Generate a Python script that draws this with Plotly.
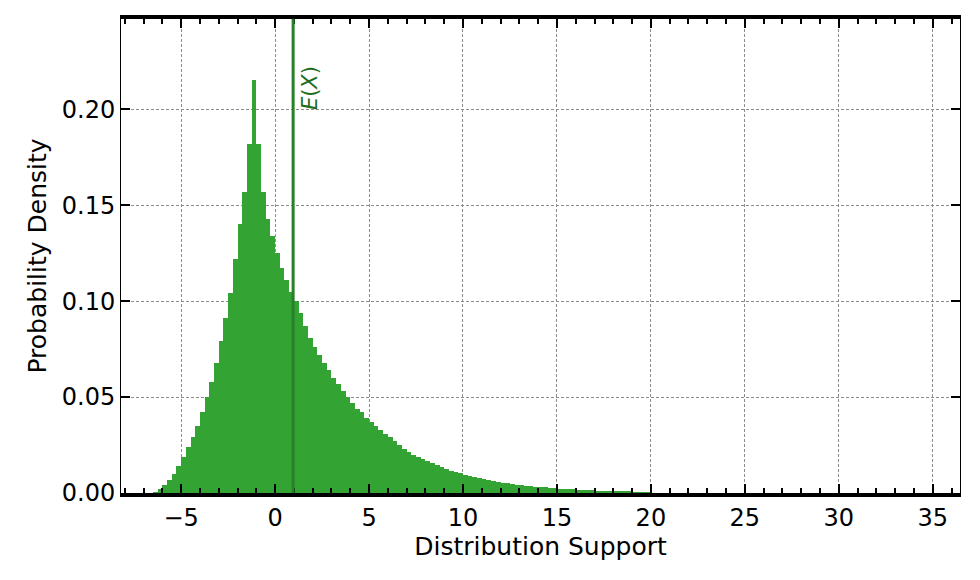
import numpy as np
import plotly.graph_objects as go

bin_start = -6.5
bin_width = 0.25
density = [
    0.0005, 0.002, 0.004, 0.007, 0.010, 0.014, 0.019, 0.024, 0.029, 0.035,
    0.042, 0.050, 0.058, 0.068, 0.079, 0.091, 0.104, 0.122, 0.140, 0.157,
    0.182, 0.215, 0.182, 0.157, 0.143, 0.134, 0.125, 0.117, 0.111, 0.105,
    0.100, 0.094, 0.087, 0.081, 0.076, 0.072, 0.068, 0.064, 0.060, 0.057,
    0.053, 0.050, 0.047, 0.044, 0.042, 0.039, 0.037, 0.035, 0.033, 0.031,
    0.029, 0.027, 0.025, 0.023, 0.0215, 0.020, 0.019, 0.0178, 0.0167, 0.0157,
    0.0145, 0.0135, 0.0125, 0.0117, 0.0110, 0.0103, 0.0096, 0.0090, 0.0084, 0.0078,
    0.0072, 0.0067, 0.0062, 0.0058, 0.0054, 0.0050, 0.0047, 0.0044, 0.0041, 0.0038,
    0.0035, 0.0033, 0.0031, 0.0029, 0.0027, 0.0025, 0.0023, 0.0021, 0.0020, 0.0019,
    0.0017, 0.0016, 0.0015, 0.0014, 0.0013, 0.0012, 0.0011, 0.0010, 0.0009, 0.0008,
    0.0007, 0.0006, 0.0005, 0.0004, 0.0003, 0.0002,
]
mean_value = 0.96

centers = bin_start + bin_width * (np.arange(len(density)) + 0.5)

fig = go.Figure()
fig.add_trace(go.Bar(x=centers, y=density, width=bin_width,
                     marker=dict(color="rgb(51,163,51)", line=dict(width=0))))
fig.add_shape(type="line", x0=mean_value, x1=mean_value, y0=0, y1=1, yref="paper",
              line=dict(color="rgb(40,128,40)", width=3))
fig.add_annotation(x=mean_value, y=0.247, text="<i>E</i>(<i>X</i>)", textangle=-90,
                   showarrow=False, xanchor="left", yanchor="top", xshift=3, yshift=-45,
                   font=dict(size=21, color="rgb(30,110,30)"))

font = dict(family="DejaVu Sans", size=24, color="black")
grid = dict(showgrid=True, gridcolor="rgb(140,140,140)", griddash="3px,2px", gridwidth=0.8)
fig.update_layout(
    width=964, height=564, margin=dict(l=113, r=12, t=11, b=79, autoexpand=False),
    plot_bgcolor="white", paper_bgcolor="white", showlegend=False, bargap=0,
    font=font,
    xaxis=dict(range=[-8.2, 36.45], tickvals=list(range(-5, 40, 5)), automargin=False,
               showline=True, linecolor="black", linewidth=4, mirror="allticks",
               ticks="inside", ticklen=9, tickwidth=1.5, tickcolor="black",
               minor=dict(dtick=1, ticks="inside", ticklen=5, tickcolor="black", showgrid=False),
               zeroline=False, **grid,
               title=dict(text="Distribution Support", font=dict(size=25), standoff=6)),
    yaxis=dict(range=[0, 0.247], tickvals=[0, 0.05, 0.10, 0.15, 0.20], tickformat=".2f",
               automargin=False,
               showline=True, linecolor="black", linewidth=1, mirror="allticks",
               ticks="inside", ticklen=9, tickwidth=1.5, tickcolor="black",
               zeroline=False, **grid,
               title=dict(text="Probability Density", font=dict(size=25), standoff=8)),
)
fig.write_html("out.html")
